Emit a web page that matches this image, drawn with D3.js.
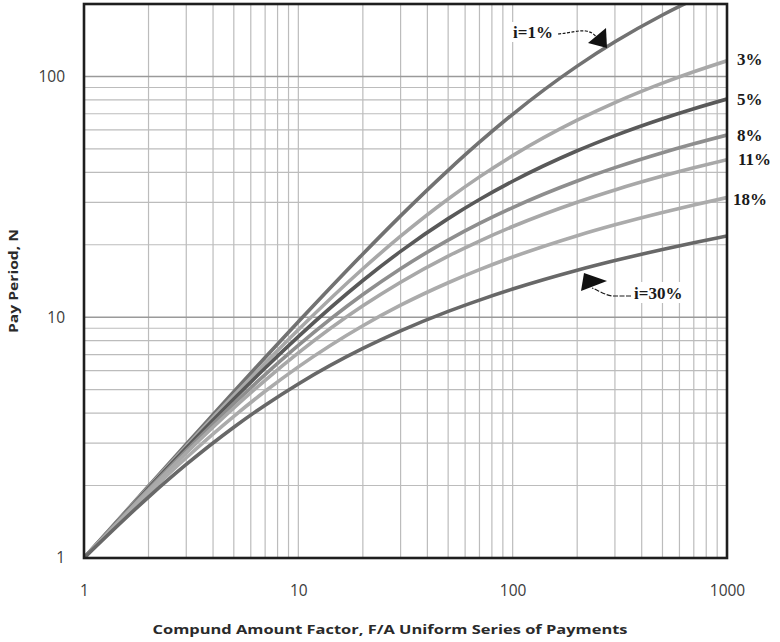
<!DOCTYPE html>
<html>
<head>
<meta charset="utf-8">
<script src="https://cdn.jsdelivr.net/npm/d3@7"></script>
<style>
  html, body { margin: 0; padding: 0; background: #fff; }
  svg { display: block; }
</style>
</head>
<body>
<svg id="chart" width="780" height="642"></svg>
<script>
// Compound amount factor F/A (x) against pay period N (y), one curve per interest rate
const factorValues = [1, 2, 3, 5, 7, 10, 20, 30, 50, 70, 100, 200, 300, 500, 700, 1000];
const rate1  = [1, 1.990, 2.971, 4.903, 6.800, 9.579, 18.32, 26.37, 40.75, 53.33, 69.66, 110.41, 139.32, 180.07, 208.98, 240.99];
const rate3  = [1, 1.971, 2.915, 4.728, 6.449, 8.876, 15.90, 21.71, 31.00, 38.28, 46.90, 65.83, 77.90, 93.80, 104.57, 116.17];
const rate5  = [1, 1.953, 2.865, 4.574, 6.151, 8.310, 14.21, 18.78, 25.68, 30.83, 36.72, 49.15, 56.83, 66.78, 73.45, 80.59];
const rate8  = [1, 1.929, 2.795, 4.372, 5.778, 7.637, 12.42, 15.90, 20.91, 24.52, 28.55, 36.81, 41.82, 48.25, 52.53, 57.10];
const rate11 = [1, 1.905, 2.733, 4.199, 5.471, 7.109, 11.15, 13.98, 17.94, 20.73, 23.81, 30.04, 33.79, 38.57, 41.75, 45.13];
const rate18 = [1, 1.858, 2.609, 3.878, 4.926, 6.221, 9.220, 11.22, 13.91, 15.77, 17.79, 21.82, 24.21, 27.25, 29.27, 31.41];
const rate30 = [1, 1.791, 2.446, 3.492, 4.312, 5.284, 7.417, 8.776, 10.57, 11.78, 13.09, 15.67, 17.19, 19.12, 20.40, 21.75];

const seriesNames = ["i=1%", "3%", "5%", "8%", "11%", "18%", "i=30%"];
const seriesValues = [rate1, rate3, rate5, rate8, rate11, rate18, rate30];
const seriesColors = ["#727272", "#a8a8a8", "#595959", "#8e8e8e", "#a8a8a8", "#ababab", "#686868"];

const xTickLabels = ["1", "10", "100", "1000"];
const yTickLabels = ["1", "10", "100"];

const svg = d3.select("#chart");
const plotLeft = 84, plotRight = 727, plotTop = 4, plotBottom = 558;

const x = d3.scaleLog().domain([1, 1000]).range([plotLeft, plotRight]);
const y = d3.scaleLog().domain([1, 200]).range([plotBottom, plotTop]);

// Grid: vertical lines at every 1..9 of each decade, horizontal up to 100
const grid = svg.append("g");
const xGrid = [];
for (let d = 1; d < 1000; d *= 10) for (let k = 2; k <= 9; k++) xGrid.push(d * k);
xGrid.push(10, 100);
grid.selectAll("line.xg").data(xGrid).enter().append("line")
  .attr("x1", d => x(d)).attr("x2", d => x(d))
  .attr("y1", plotTop).attr("y2", plotBottom)
  .attr("stroke", "#bcbcbc").attr("stroke-width", 1.2);
const yGrid = [];
for (let d = 1; d < 100; d *= 10) for (let k = 2; k <= 9; k++) yGrid.push(d * k);
grid.selectAll("line.yg").data(yGrid).enter().append("line")
  .attr("x1", plotLeft).attr("x2", plotRight)
  .attr("y1", d => y(d)).attr("y2", d => y(d))
  .attr("stroke", "#bcbcbc").attr("stroke-width", 1.2);
grid.selectAll("line.ym").data([10, 100]).enter().append("line")
  .attr("x1", plotLeft).attr("x2", plotRight)
  .attr("y1", d => y(d)).attr("y2", d => y(d))
  .attr("stroke", "#9a9a9a").attr("stroke-width", 1.3);

// Curves
svg.append("clipPath").attr("id", "plot")
  .append("rect").attr("x", plotLeft).attr("y", plotTop)
  .attr("width", plotRight - plotLeft).attr("height", plotBottom - plotTop);

const line = d3.line()
  .x(d => x(d[0])).y(d => y(d[1]))
  .curve(d3.curveMonotoneX);

const curves = svg.append("g").attr("clip-path", "url(#plot)");
seriesValues.forEach((vals, i) => {
  curves.append("path")
    .datum(factorValues.map((f, j) => [f, vals[j]]))
    .attr("d", line)
    .attr("fill", "none")
    .attr("stroke", seriesColors[i])
    .attr("stroke-width", 3.6)
    .attr("stroke-linejoin", "round");
});

// Frame
svg.append("rect")
  .attr("x", plotLeft).attr("y", plotTop)
  .attr("width", plotRight - plotLeft).attr("height", plotBottom - plotTop)
  .attr("fill", "none").attr("stroke", "#1e1e1e").attr("stroke-width", 2.6);

// Axes (labels only, ticks are hidden)
const xAxis = d3.axisBottom(x)
  .tickValues(xTickLabels.map(Number))
  .tickFormat((d, i) => xTickLabels[i])
  .tickSize(0).tickPadding(27);
const gx = svg.append("g").attr("transform", `translate(0,${plotBottom})`).call(xAxis);
const yAxis = d3.axisLeft(y)
  .tickValues(yTickLabels.map(Number))
  .tickFormat((d, i) => yTickLabels[i])
  .tickSize(0).tickPadding(19);
const gy = svg.append("g").attr("transform", `translate(${plotLeft},0)`).call(yAxis);
[gx, gy].forEach(g => {
  g.select(".domain").remove();
  g.selectAll("text")
    .attr("font-family", "'Open Sans', sans-serif")
    .attr("font-size", 15.5)
    .attr("fill", "#3c3c3c");
});

// Axis titles
svg.append("text")
  .attr("x", 390).attr("y", 634)
  .attr("text-anchor", "middle")
  .attr("font-family", "'Open Sans', sans-serif")
  .attr("font-weight", "bold")
  .attr("font-size", 13)
  .attr("fill", "#2a2a2a")
  .attr("textLength", 475).attr("lengthAdjust", "spacingAndGlyphs")
  .text("Compund Amount Factor, F/A Uniform Series of Payments");
svg.append("text")
  .attr("transform", "translate(18,281) rotate(-90)")
  .attr("text-anchor", "middle")
  .attr("font-family", "'Open Sans', sans-serif")
  .attr("font-weight", "bold")
  .attr("font-size", 13)
  .attr("fill", "#2a2a2a")
  .attr("textLength", 104).attr("lengthAdjust", "spacingAndGlyphs")
  .text("Pay Period, N");

// Rate labels at the right edge
const serif = "'Liberation Serif', 'Times New Roman', serif";
const last = factorValues.length - 1;
const rightLabels = [1, 2, 3, 4, 5];
const labelDy = [4, 6, 6, 5, 7];
const labelDx = [10, 10, 10, 11, 6];
rightLabels.forEach((si, k) => {
  svg.append("text")
    .attr("x", plotRight + labelDx[k])
    .attr("y", y(seriesValues[si][last]) + labelDy[k])
    .attr("font-family", serif)
    .attr("font-weight", "bold")
    .attr("font-size", 17)
    .attr("fill", "#1a1a1a")
    .text(seriesNames[si]);
});

// Callout for i=1%
const callouts = svg.append("g");
callouts.append("rect").attr("x", 511).attr("y", 22).attr("width", 47).attr("height", 20).attr("fill", "#fff");
callouts.append("text")
  .attr("x", 513).attr("y", 38)
  .attr("font-family", serif).attr("font-weight", "bold").attr("font-size", 17)
  .attr("fill", "#1a1a1a").text(seriesNames[0]);
callouts.append("path")
  .attr("d", "M558,34 C570,33 578,30 586,31 C592,32 595,35 597,38")
  .attr("fill", "none").attr("stroke", "#1a1a1a").attr("stroke-width", 1.2)
  .attr("stroke-dasharray", "3,1.5");
callouts.append("path")
  .attr("d", "M606,28 L588,43 L607,48 Z")
  .attr("fill", "#111");

// Callout for i=30%
callouts.append("rect").attr("x", 632).attr("y", 282).attr("width", 58).attr("height", 21).attr("fill", "#fff");
callouts.append("text")
  .attr("x", 634).attr("y", 299)
  .attr("font-family", serif).attr("font-weight", "bold").attr("font-size", 17)
  .attr("fill", "#1a1a1a").text(seriesNames[6]);
callouts.append("path")
  .attr("d", "M631,296 L613,296 C604,295 598,290 592,288")
  .attr("fill", "none").attr("stroke", "#1a1a1a").attr("stroke-width", 1.2)
  .attr("stroke-dasharray", "5,1.5");
callouts.append("path")
  .attr("d", "M584,273 L607,281 L581,291 Z")
  .attr("fill", "#111");
</script>
</body>
</html>
